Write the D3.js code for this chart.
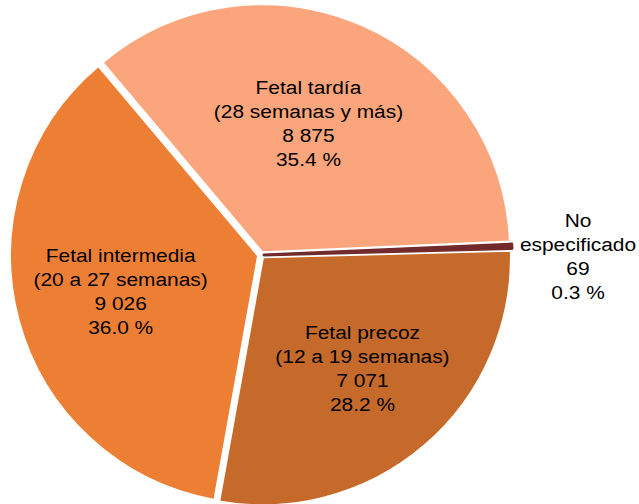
<!DOCTYPE html>
<html>
<head>
<meta charset="utf-8">
<script src="https://cdn.jsdelivr.net/npm/d3@7"></script>
<style>
  body { margin: 0; background: white; }
</style>
</head>
<body>
<div id="viz-container"></div>
<script>
// data
const categories = ["Fetal precoz", "Fetal intermedia", "Fetal tardía", "No especificado"];
const nameLines = [
  ["Fetal precoz", "(12 a 19 semanas)"],
  ["Fetal intermedia", "(20 a 27 semanas)"],
  ["Fetal tardía", "(28 semanas y más)"],
  ["No", "especificado"]
];
const counts = [7071, 9026, 8875, 69];
const colors = ["#C56A2A", "#ED7F35", "#FBA57C", "#722A2C"];

// label placement tweaks (Excel "best fit" doesn't sit exactly on the centroid)
const labelRadius = [152, 145, 140, 317];
const labelShiftDeg = [-1.2, 0.4, -3.9, 2.3];

const width = 639, height = 504;
const cx = 261, cy = 255, radius = 248;
const explode = 3;

let viz = d3.select("#viz-container")
  .append("svg")
    .attr("width", width)
    .attr("height", height)
    .attr("font-family", "Liberation Sans, Arial, sans-serif")
;

let total = d3.sum(counts);
let fmtCount = d3.formatLocale({ decimal: ".", thousands: " ", grouping: [3], currency: ["", ""] }).format(",d");
let fmtPct = d3.format(".1f");

let slices = categories.map((c, i) => ({
  name: c,
  lines: nameLines[i],
  value: counts[i],
  color: colors[i],
  idx: i
}));

// first slice starts just below 3 o'clock, going clockwise
let startDeg = 88.5;
let pie = d3.pie()
  .sort(null)
  .value(d => d.value)
  .startAngle(startDeg * Math.PI / 180)
  .endAngle((startDeg + 360) * Math.PI / 180)
;

let arc = d3.arc().innerRadius(0).outerRadius(radius);
let arcs = pie(slices);

let pieGroup = viz.append("g").attr("transform", `translate(${cx},${cy})`);

pieGroup.selectAll(".slice").data(arcs).enter()
  .append("path")
    .attr("class", "slice")
    .attr("d", arc)
    .attr("transform", d => {
      let mid = (d.startAngle + d.endAngle) / 2;
      return `translate(${explode * Math.sin(mid)},${-explode * Math.cos(mid)})`;
    })
    .attr("fill", d => d.data.color)
    .attr("stroke", d => d.value / total < 0.01 ? d.data.color : "white")
    .attr("stroke-width", d => d.value / total < 0.01 ? 3 : 2)
    .attr("stroke-linejoin", "round")
;

let lineStep = 24;

let labels = pieGroup.selectAll(".label").data(arcs).enter()
  .append("g")
    .attr("class", "label")
    .attr("transform", d => {
      let i = d.data.idx;
      let r = labelRadius[i];
      let mid = (d.startAngle + d.endAngle) / 2 + labelShiftDeg[i] * Math.PI / 180;
      let p = d3.arc().innerRadius(r).outerRadius(r).centroid({ startAngle: mid, endAngle: mid });
      return `translate(${p[0]},${p[1]}) scale(1.1,1)`;
    })
;

labels.each(function(d) {
  let txt = d.data.lines.concat([fmtCount(d.value), fmtPct(d.value / total * 100) + " %"]);
  d3.select(this).selectAll("text").data(txt).enter()
    .append("text")
      .attr("x", 0)
      .attr("y", (t, i) => (i - (txt.length - 1) / 2) * lineStep + 6.5)
      .attr("text-anchor", "middle")
      .attr("font-size", 19)
      .attr("fill", "#000")
      .text(t => t)
  ;
});
</script>
</body>
</html>
